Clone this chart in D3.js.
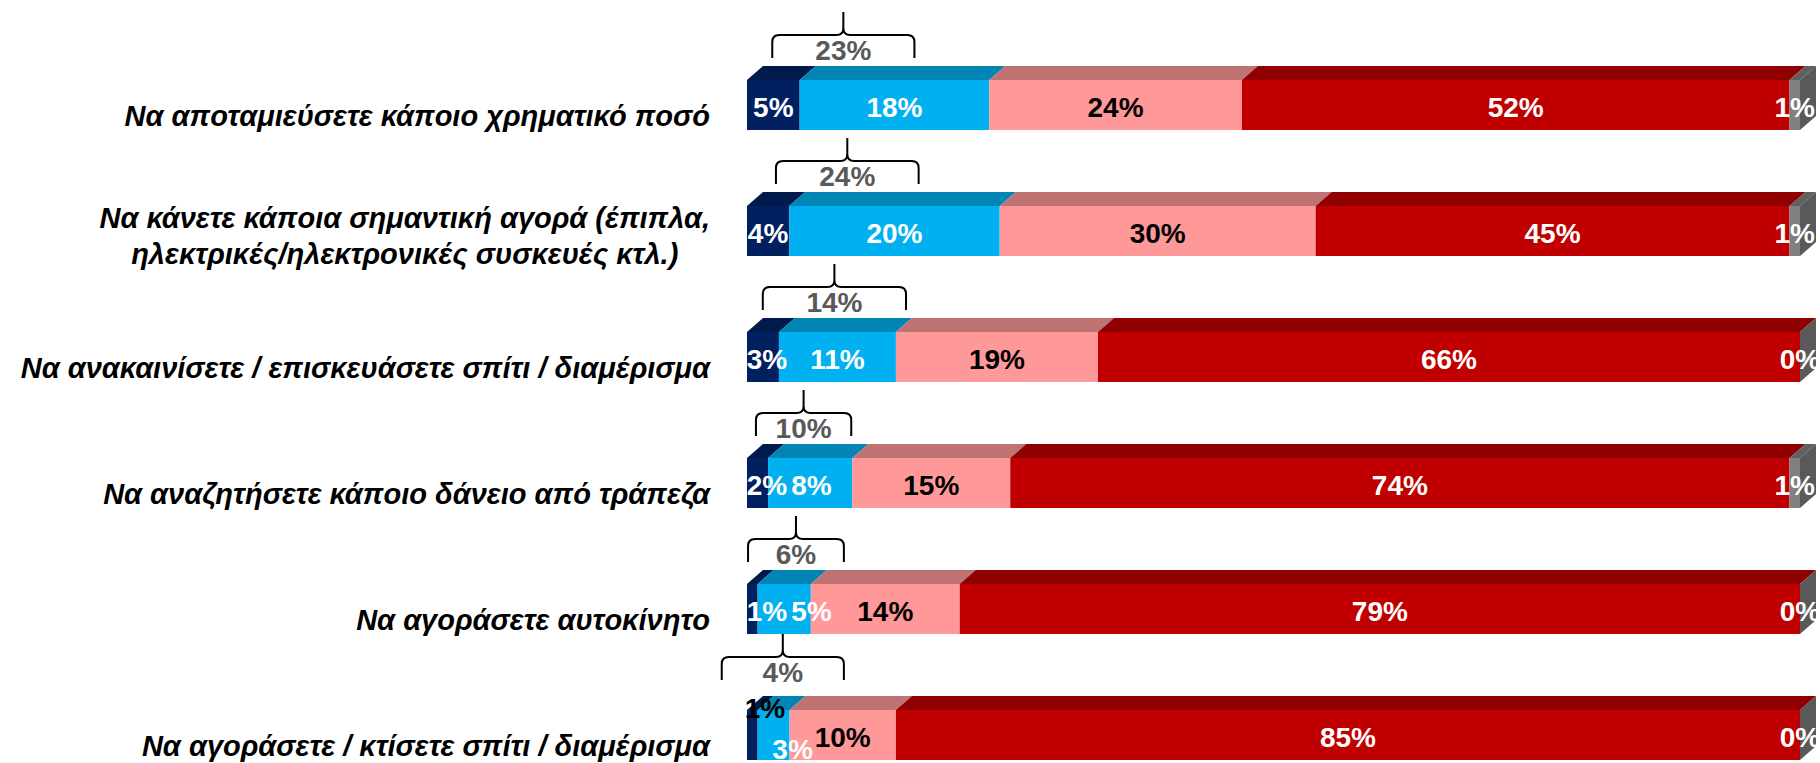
<!DOCTYPE html>
<html>
<head>
<meta charset="utf-8">
<script src="https://cdn.jsdelivr.net/npm/d3@7"></script>
<style>
  body { margin: 0; background: #fff; }
  text { font-family: "Liberation Sans", Arial, sans-serif; }
</style>
</head>
<body>
<div id="chart"></div>
<script>
// Categories (row 2 wraps onto two lines)
const categories = [
    "Να αποταμιεύσετε κάποιο χρηματικό ποσό",
    "Να κάνετε κάποια σημαντική αγορά (έπιπλα,\nηλεκτρικές/ηλεκτρονικές συσκευές κτλ.)",
    "Να ανακαινίσετε / επισκευάσετε σπίτι / διαμέρισμα",
    "Να αναζητήσετε κάποιο δάνειο από τράπεζα",
    "Να αγοράσετε αυτοκίνητο",
    "Να αγοράσετε / κτίσετε σπίτι / διαμέρισμα"
];

// Series values (%)
const definitelyYes = [5, 4, 3, 2, 1, 1];
const probablyYes   = [18, 20, 11, 8, 5, 3];
const probablyNo    = [24, 30, 19, 15, 14, 10];
const definitelyNo  = [52, 45, 66, 74, 79, 85];
const noAnswer      = [1, 1, 0, 1, 0, 0];

// Bracket extents above the first two segments (in % of the axis)
const bracketFrom = [2.4, 2.75, 1.5, 0.85, 0.1, -2.4];
const bracketTo   = [15.9, 16.3, 15.1, 9.9, 9.2, 9.2];

const keys = ["definitelyYes", "probablyYes", "probablyNo", "definitelyNo", "noAnswer"];
const front = { definitelyYes: "#002060", probablyYes: "#00B0F0", probablyNo: "#FF9999", definitelyNo: "#C00000", noAnswer: "#808080" };
const topc  = { definitelyYes: "#001A4C", probablyYes: "#0085B5", probablyNo: "#BF7373", definitelyNo: "#900000", noAnswer: "#606060" };
const labelColor = { definitelyYes: "#fff", probablyYes: "#fff", probablyNo: "#000", definitelyNo: "#fff", noAnswer: "#fff" };

const rows = categories.map((c, i) => ({
    cat: i,
    definitelyYes: definitelyYes[i],
    probablyYes: probablyYes[i],
    probablyNo: probablyNo[i],
    definitelyNo: definitelyNo[i],
    noAnswer: noAnswer[i]
}));

const W = 1820, H = 763;
const dx = 16, dy = 14;   // 3D depth

const svg = d3.select("#chart").append("svg")
    .attr("width", W)
    .attr("height", H);

const x = d3.scaleLinear().domain([0, 1]).range([747, 1800]);
const y = d3.scaleBand()
    .domain(d3.range(categories.length))
    .range([80, 760])
    .paddingInner(76 / 126)
    .paddingOuter(0);
const bw = y.bandwidth();

const stacked = d3.stack().keys(keys).offset(d3.stackOffsetExpand)(rows);

// Front faces
stacked.forEach(layer => {
    svg.append("g").selectAll("rect")
        .data(layer)
        .join("rect")
        .attr("x", d => x(d[0]))
        .attr("y", d => y(d.data.cat))
        .attr("width", d => x(d[1]) - x(d[0]))
        .attr("height", bw)
        .attr("fill", front[layer.key]);
});

// Top faces
stacked.forEach(layer => {
    svg.append("g").selectAll("path")
        .data(layer)
        .join("path")
        .attr("d", d => {
            const x0 = x(d[0]), x1 = x(d[1]), t = y(d.data.cat);
            return `M${x0},${t}L${x1},${t}L${x1 + dx},${t - dy}L${x0 + dx},${t - dy}Z`;
        })
        .attr("fill", topc[layer.key]);
});

// Right side face
const last = stacked[stacked.length - 1];
svg.append("g").selectAll("path")
    .data(last)
    .join("path")
    .attr("d", d => {
        const x1 = x(d[1]), t = y(d.data.cat);
        return `M${x1},${t}L${x1 + dx},${t - dy}L${x1 + dx},${t - dy + bw}L${x1},${t + bw}Z`;
    })
    .attr("fill", "#595959");

// Value labels: centred in segments, pushed right when they would collide
const valG = svg.append("g");
rows.forEach((row, i) => {
    let prevRight = -Infinity;
    stacked.forEach((layer, li) => {
        const d = layer[i];
        const t = valG.append("text")
            .attr("text-anchor", "middle")
            .attr("dominant-baseline", "central")
            .attr("font-size", 28)
            .attr("font-weight", "bold")
            .attr("fill", labelColor[layer.key])
            .text(row[layer.key] + "%");
        const hw = t.node().getComputedTextLength() / 2;
        let cx = (x(d[0]) + x(d[1])) / 2;
        let cy = y(i) + bw / 2 + 2;
        if (i === 5 && li === 0) {
            // last row: the smallest label sits above the bar
            cx = x(0) + 18; cy -= 29; t.attr("fill", "#000");
        } else if (i === 5 && li === 1) {
            cx += 19; cy += 12;
        } else {
            if (li === 0) cx = Math.max(cx, x(0) + 20);
            cx = Math.max(cx, prevRight + 4 + hw);
            prevRight = cx + hw;
        }
        t.attr("x", cx).attr("y", cy);
    });
});

// Brackets with subtotal of the first two segments
const brace = svg.append("g");
categories.forEach((c, i) => {
    const t = y(i);
    const lift = i === 5 ? 8 : 0;
    const hY = t - 45 - lift, endY = t - 22 - lift, spikeY = t - 68 - lift;
    const l = x(bracketFrom[i] / 100), r = x(bracketTo[i] / 100), m = (l + r) / 2;
    const rr = 7;
    const p = `M${l},${endY}L${l},${hY + rr}Q${l},${hY} ${l + rr},${hY}L${m - rr},${hY}Q${m},${hY} ${m},${hY - rr}L${m},${i === 5 ? y(4) + bw : spikeY}`
        + `M${m},${hY - rr}Q${m},${hY} ${m + rr},${hY}L${r - rr},${hY}Q${r},${hY} ${r},${hY + rr}L${r},${endY}`;
    brace.append("path")
        .attr("d", p)
        .attr("fill", "none")
        .attr("stroke", "#000")
        .attr("stroke-width", 2);
    brace.append("text")
        .attr("x", m)
        .attr("y", hY + 15)
        .attr("text-anchor", "middle")
        .attr("dominant-baseline", "central")
        .attr("font-size", 28)
        .attr("font-weight", "bold")
        .attr("fill", "#595959")
        .text((definitelyYes[i] + probablyYes[i]) + "%");
});

// Category labels
const catG = svg.append("g");
const catFont = 29;
categories.forEach((c, i) => {
    const lines = c.split("\n");
    const lh = 36;
    const txt = catG.append("text")
        .attr("font-size", catFont)
        .attr("font-weight", "bold")
        .attr("font-style", "italic")
        .attr("fill", "#000")
        .attr("dominant-baseline", "central");
    if (lines.length === 1) {
        txt.attr("x", 710).attr("y", y(i) + bw / 2 + 11).attr("text-anchor", "end").text(c);
    } else {
        // centre the block with the widest line's right edge at 710
        const tmp = catG.append("text").attr("font-size", catFont).attr("font-weight", "bold").attr("font-style", "italic").text(lines[0]);
        const w = tmp.node().getComputedTextLength();
        tmp.remove();
        txt.attr("text-anchor", "middle");
        const cy = y(i) + bw / 2 + 5;
        lines.forEach((ln, k) => {
            txt.append("tspan")
                .attr("x", 710 - w / 2)
                .attr("y", cy + (k - (lines.length - 1) / 2) * lh)
                .text(ln);
        });
    }
});
</script>
</body>
</html>
